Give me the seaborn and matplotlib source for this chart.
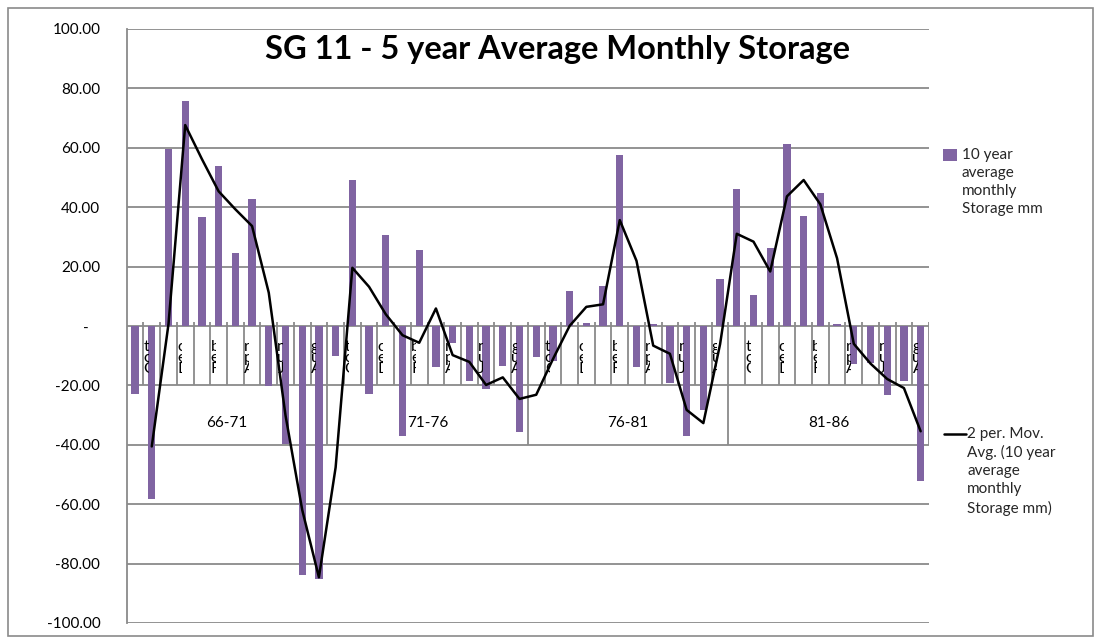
import numpy as np
import pandas as pd
import matplotlib
matplotlib.use("Agg")
import matplotlib.pyplot as plt
from matplotlib.patches import Rectangle
from matplotlib.lines import Line2D
from matplotlib.ticker import FuncFormatter
from matplotlib.transforms import Bbox, TransformedBbox
import seaborn as sns

# ---- data -----------------------------------------------------------------
periods = ["66-71", "71-76", "76-81", "81-86"]
months = ["Oct", "Nov", "Dec", "Jan", "Feb", "Mar",
          "Apr", "May", "Jun", "Jul", "Aug", "Sep"]

storage_6671 = [-22.8, -58.3, 59.6, 75.7, 36.7, 54.0, 24.6, 42.7, -20.3, -39.8, -84.0, -85.2]
storage_7176 = [-10.0, 49.2, -22.8, 30.7, -36.9, 25.6, -13.8, -5.8, -18.4, -21.3, -13.3, -35.8]
storage_7681 = [-10.5, -11.8, 11.9, 1.0, 13.6, 57.7, -13.8, 0.6, -19.3, -37.2, -28.2, 15.9]
storage_8186 = [46.2, 10.6, 26.1, 61.2, 37.1, 44.8, 0.8, -12.8, -12.5, -23.2, -18.6, -52.3]

y_ticks = [100, 80, 60, 40, 20, 0, -20, -40, -60, -80, -100]

title = "SG 11 - 5 year Average Monthly Storage"
bar_label = ["10 year", "average", "monthly", "Storage mm"]
line_label = ["2 per. Mov.", "Avg. (10 year", "average", "monthly", "Storage mm)"]

# ---- table ----------------------------------------------------------------
series = [storage_6671, storage_7176, storage_7681, storage_8186]
df = pd.DataFrame({
    "period": np.repeat(periods, len(months)),
    "month": months * len(periods),
    "storage": np.concatenate(series),
})
df["idx"] = np.arange(len(df))
df["mavg"] = df["storage"].rolling(2).mean()

# ---- style ----------------------------------------------------------------
sns.set_style("white")
plt.rcParams["font.family"] = ["Lato", "DejaVu Sans"]

PURPLE = "#8064A2"
GRID = "#8a8a8a"
W_PX, H_PX = 1101, 643

fig = plt.figure(figsize=(W_PX / 100, H_PX / 100), dpi=100)
left, right, top, bottom = 126.7, 929.0, 29.0, 623.0
ax = fig.add_axes([left / W_PX, 1 - bottom / H_PX,
                   (right - left) / W_PX, (bottom - top) / H_PX])

sns.barplot(data=df, x="idx", y="storage", color=PURPLE, saturation=1,
            width=0.44, linewidth=0, errorbar=None, ax=ax, zorder=2)
sns.lineplot(data=df, x="idx", y="mavg", color="black", linewidth=1.8,
             ax=ax, zorder=4)

n = len(df)
ax.set_xlim(-0.5, n - 0.5)
ax.set_ylim(-100, 100)
ax.set_xticks([])
ax.set_xlabel("")
ax.set_ylabel("")

ax.set_yticks(y_ticks)
ax.yaxis.set_major_formatter(FuncFormatter(lambda v, _: "-   " if v == 0 else f"{v:.2f}"))
ax.yaxis.grid(True, color=GRID, linewidth=1.3)
ax.set_axisbelow(True)
ax.tick_params(axis="y", direction="out", length=6, width=1.3, color=GRID,
               labelsize=11, pad=13, labelcolor="black")
for s in ["top", "right", "bottom"]:
    ax.spines[s].set_visible(False)
ax.spines["left"].set_color(GRID)
ax.spines["left"].set_linewidth(1.3)

# category axis: ticks between months and dividers between periods
bounds = np.arange(n + 1) - 0.5
ax.vlines(bounds[1:], -20, 1.2, color=GRID, linewidth=1.3, zorder=3)
ax.vlines(bounds[::len(months)][1:], -40, -20, color=GRID, linewidth=1.3, zorder=3)

# month labels (every second month): stacked letters squeezed into the
# narrow cell to the right of the tick, so only part of each glyph shows
px = (right - left) / n
for g in range(len(periods)):
    for m in range(0, len(months), 2):
        b = g * len(months) + m + 0.5
        box = TransformedBbox(Bbox([[b + 0.2 / px, -20], [b + 5.4 / px, 0]]), ax.transData)
        stacked = "\n".join(reversed(months[m]))
        t = ax.text(b + 0.2 / px, -10.9, stacked, ha="left", va="center",
                    multialignment="left", linespacing=0.72,
                    fontsize=11.5, color="black", zorder=5)
        t.set_clip_box(box)
        t.set_clip_on(True)

# period labels
for g, p in enumerate(periods):
    ax.text(g * len(months) + (len(months) - 1) / 2, -32.5, p,
            ha="center", va="center", fontsize=11, color="black")

# title
fig.text(557.5 / W_PX, 1 - 49 / H_PX, title, ha="center", va="center",
         fontsize=23.5, fontweight="bold", color="black")

# legend
def fx(x):
    return x / W_PX

def fy(y):
    return 1 - y / H_PX

fig.add_artist(Rectangle((fx(943), fy(161)), 14 / W_PX, 12 / H_PX,
                         transform=fig.transFigure, facecolor=PURPLE, edgecolor="none"))
for line, y in zip(bar_label, [155, 173, 191, 209]):
    fig.text(fx(962), fy(y), line, ha="left", va="center", fontsize=11)

fig.add_artist(Line2D([fx(944), fx(966)], [fy(434), fy(434)],
                      transform=fig.transFigure, color="black", linewidth=1.8))
for line, y in zip(line_label, [434, 452, 471, 489, 508]):
    fig.text(fx(967), fy(y), line, ha="left", va="center", fontsize=11)

# chart frame
fig.add_artist(Rectangle((fx(8), fy(636)), 1085 / W_PX, 628 / H_PX,
                         transform=fig.transFigure, facecolor="none",
                         edgecolor=GRID, linewidth=1.2))

fig.savefig("out.png", dpi=100)
